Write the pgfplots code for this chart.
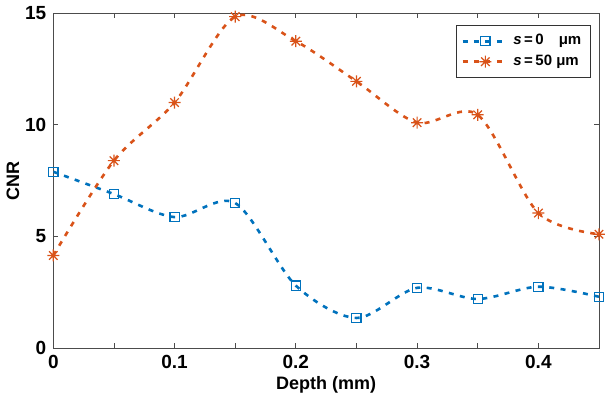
\documentclass[border=0pt]{standalone}
\usepackage{pgfplots}
\pgfplotsset{compat=1.18}
\usepackage{fontspec}
\setmainfont{Liberation Sans}
\definecolor{mblue}{rgb}{0,0.447,0.741}
\definecolor{morange}{rgb}{0.85,0.325,0.098}
\pgfdeclareplotmark{mstar}{%
  \pgfpathmoveto{\pgfqpoint{-\pgfplotmarksize}{0pt}}\pgfpathlineto{\pgfqpoint{\pgfplotmarksize}{0pt}}%
  \pgfpathmoveto{\pgfqpoint{0pt}{-\pgfplotmarksize}}\pgfpathlineto{\pgfqpoint{0pt}{\pgfplotmarksize}}%
  \pgfpathmoveto{\pgfqpoint{-0.707\pgfplotmarksize}{-0.707\pgfplotmarksize}}\pgfpathlineto{\pgfqpoint{0.707\pgfplotmarksize}{0.707\pgfplotmarksize}}%
  \pgfpathmoveto{\pgfqpoint{-0.707\pgfplotmarksize}{0.707\pgfplotmarksize}}\pgfpathlineto{\pgfqpoint{0.707\pgfplotmarksize}{-0.707\pgfplotmarksize}}%
  \pgfusepathqstroke}
\begin{document}
\begin{tikzpicture}
\begin{axis}[
  scale only axis,
  width=273pt, height=167.5pt,
  xmin=0, xmax=0.45, ymin=0, ymax=15,
  xtick={0,0.1,0.2,0.3,0.4},
  xticklabels={0,0.1,0.2,0.3,0.4},
  minor xtick={0.05,0.15,0.25,0.35},
  ytick={0,5,10,15},
  tick align=inside,
  major tick length=2.5pt, minor tick length=2.5pt,
  tick style={black!70, line width=0.4pt},
  axis line style={black!70, line width=0.5pt},
  every tick label/.append style={font=\bfseries\fontsize{9.5}{10}\selectfont},
  /pgf/number format/assume math mode=true,
  xlabel={\bfseries Depth (mm)},
  ylabel={\bfseries CNR},
  label style={font=\bfseries\fontsize{9}{10}\selectfont},
  xlabel style={yshift=3pt},
  ylabel style={yshift=-4pt},
  legend style={at={(0.985,0.965)}, anchor=north east, font=\bfseries\fontsize{7.5}{9}\selectfont, draw=black!80, line width=0.5pt, inner sep=2.5pt, row sep=-0.5pt},
  legend cell align=left,
  legend image code/.code={%
    \draw[mark repeat=2,mark phase=2] plot coordinates {(0cm,0cm) (0.4cm,0cm) (0.8cm,0cm)};},
]
\addplot[mblue, line width=1.3pt, dash pattern=on 2.5pt off 3.2pt, smooth,
  mark=square, mark size=2.3pt, mark options={solid, line width=0.6pt, fill=white}]
  coordinates {(0,7.9) (0.05,6.9) (0.1,5.87) (0.15,6.5) (0.2,2.8) (0.25,1.35) (0.3,2.7) (0.35,2.2) (0.4,2.75) (0.45,2.3)};
\addlegendentry{\textit{s}\,=\,0\quad μm}
\addplot[morange, line width=1.3pt, dash pattern=on 2.5pt off 3.2pt, smooth,
  mark=mstar, mark size=3pt, mark options={solid, line width=0.6pt}]
  coordinates {(0,4.15) (0.05,8.4) (0.1,11.0) (0.15,14.85) (0.2,13.75) (0.25,11.95) (0.3,10.1) (0.35,10.45) (0.4,6.05) (0.45,5.1)};
\addlegendentry{\textit{s}\,=\,50 μm}
\end{axis}
\end{tikzpicture}
\end{document}
